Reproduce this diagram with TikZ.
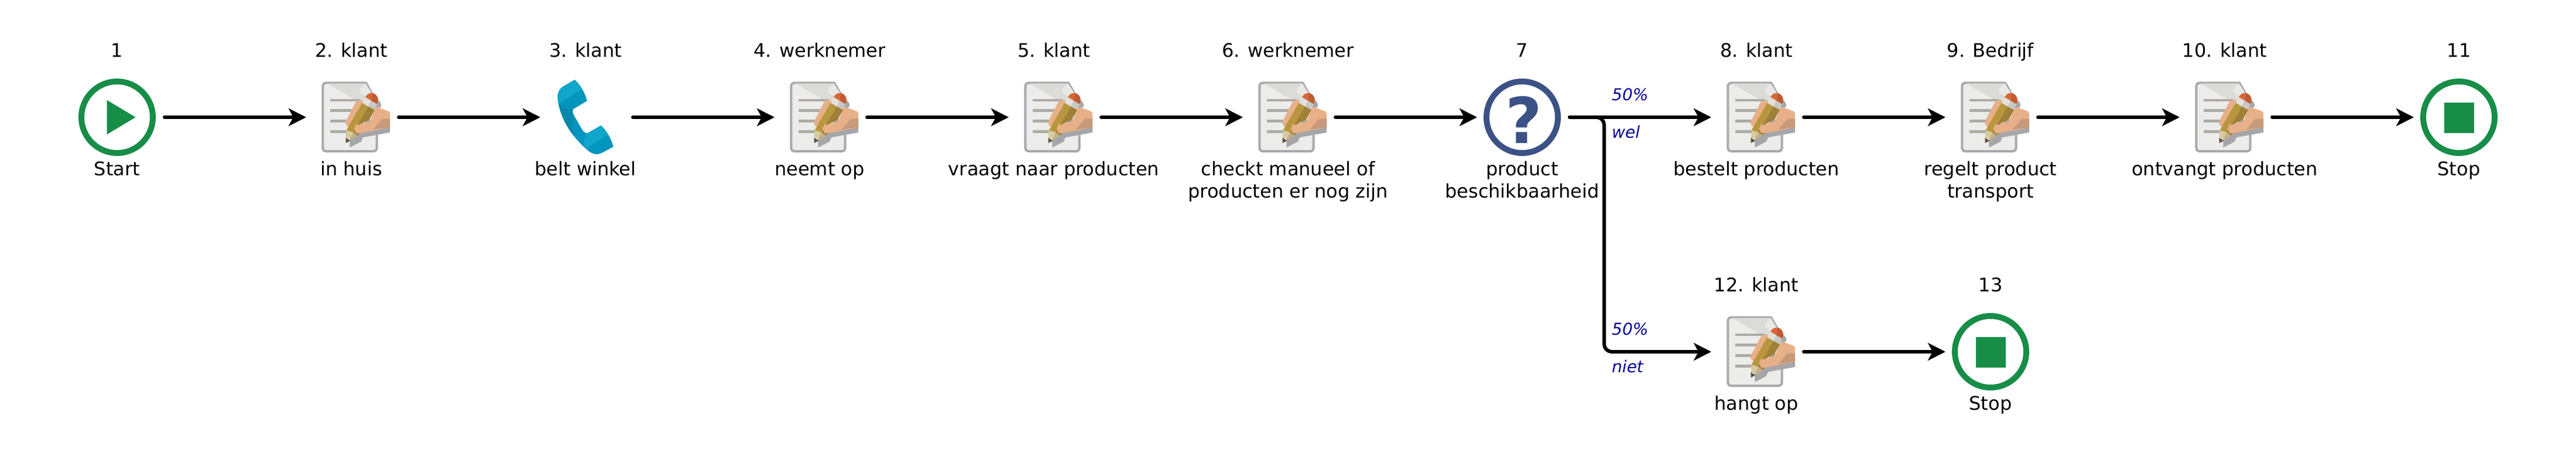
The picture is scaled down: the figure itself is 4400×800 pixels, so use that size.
\documentclass[tikz,border=0pt]{standalone}
\usepackage{fontspec}
\setmainfont{DejaVu Sans}
\usetikzlibrary{arrows.meta,calc}
\definecolor{flowgreen}{HTML}{178D48}
\definecolor{askblue}{HTML}{3C5186}
\definecolor{notegreen}{HTML}{000099}
\definecolor{paper}{HTML}{ECECEA}
\definecolor{paperedge}{HTML}{A9A9AC}
\definecolor{paperfold}{HTML}{DBDBD7}
\definecolor{paperlight}{HTML}{E8E8E6}
\definecolor{rulegrey}{HTML}{ADABA6}
\definecolor{shadowgrey}{HTML}{A5A6A9}
\definecolor{skin}{HTML}{E7B088}
\definecolor{skindark}{HTML}{C69A7B}
\definecolor{rubber}{HTML}{DB6636}
\definecolor{rubberdark}{HTML}{C25A32}
\definecolor{ferrule}{HTML}{E2E1DD}
\definecolor{ferruledark}{HTML}{C8C8C4}
\definecolor{wood}{HTML}{B8963E}
\definecolor{wooddark}{HTML}{A07F36}
\definecolor{tipa}{HTML}{D8CA9F}
\definecolor{tipb}{HTML}{C2B088}
\definecolor{leadgrey}{HTML}{5C5044}
\definecolor{phonemid}{HTML}{0495BE}
\definecolor{phonelight}{HTML}{10A5CB}
\definecolor{phonedark}{HTML}{0888AB}
\newcommand{\phonepath}{(245,108) .. controls (275,135) and (298,175) .. (308,216) -- (238,258)
        .. controls (232,268) and (236,280) .. (242,292) -- (280,358) .. controls (290,375) and (300,385) .. (312,381)
        -- (380,342) .. controls (410,370) and (432,410) .. (443,451) -- (385,482)
        .. controls (365,493) and (340,492) .. (315,472) .. controls (230,400) and (170,310) .. (158,205)
        .. controls (155,180) and (165,155) .. (185,143) -- cycle}
\tikzset{
  x=1pt,y=-1pt,
  iconbox/.style={rectangle,minimum width=154pt,minimum height=132pt,inner sep=0pt,outer sep=0pt},
  toplabel/.style={anchor=base,inner sep=0pt,font=\fontsize{32}{38}\selectfont},
  sublabel/.style={anchor=base,inner sep=0pt,align=center,font=\fontsize{32}{38}\selectfont},
  pctlabel/.style={anchor=base west,inner sep=0pt,text=notegreen,font=\fontsize{28}{34}\selectfont\itshape},
  flow/.style={line width=6pt,line cap=round,rounded corners=13pt,-{Stealth[length=30pt,width=30pt,inset=8pt]},shorten <=4pt},
  ring/.style={draw=#1,line width=10pt,fill=white,circle,minimum size=122pt,inner sep=0pt,outer sep=0pt},
  docicon/.pic={
    \begin{scope}[x=.33333pt,y=-.33333pt,shift={(-300,-300)}]
      \draw[paperedge,fill=paper,line width=4pt,line join=round]
        (154,300) [rounded corners=5pt] -- (154,124) [sharp corners] -- (375,124) -- (431,222)
        [rounded corners=5pt] -- (431,474) -- (154,474) -- cycle;
      \fill[paperfold] (175,127) -- (373,127) -- (345,155) -- (345,175) -- (378,197) -- (350,228) -- cycle;
      \fill[paperlight] (373,127) -- (345,155) .. controls (342,170) and (350,178) .. (375,195) -- (412,188) -- cycle;
      \fill[rulegrey] (192,206) rectangle (345,220);
      \fill[rulegrey] (192,259) rectangle (320,273);
      \fill[rulegrey] (192,313) rectangle (300,327);
      \fill[rulegrey] (192,366) rectangle (290,380);
      % shadow
      \fill[shadowgrey] (498,378) -- (360,403) -- (350,425) -- (292,455) -- (292,400) -- (430,330) -- (498,330) -- cycle;
      \fill[shadowgrey] (425,205) .. controls (445,215) and (462,235) .. (450,248) -- (415,262) -- cycle;
      \fill[shadowgrey] (370,305) -- (396,305) -- (396,322) -- (370,330) -- cycle;
      % index finger and hand
      \fill[skin,rounded corners=8pt] (330,208) -- (372,214) -- (300,352) -- (262,340) -- cycle;
      \fill[skin,rounded corners=3pt] (425,245) -- (498,272) -- (498,352) -- (345,381)
        .. controls (320,383) and (318,342) .. (345,336) -- (395,322) -- cycle;
      \fill[skindark] (498,308) -- (460,308) -- (412,362) -- (498,352) -- cycle;
      % pencil
      \fill[wood] (356,226) -- (388,244) -- (310,378) -- (275,366) -- cycle;
      \fill[wooddark] (388,244) -- (420,262) -- (392,312) -- (345,336) -- (322,345) -- (345,381) -- (330,393) -- (310,378) -- cycle;
      \fill[skin,rounded corners=6pt] (325,345) -- (395,322) -- (400,370) -- (345,381) .. controls (322,383) and (316,355) .. cycle;
      \fill[tipa] (275,366) -- (310,378) -- (295,408) -- (272,406) -- cycle;
      \fill[tipb] (310,378) -- (332,394) -- (295,420) -- (295,408) -- cycle;
      \fill[leadgrey] (272,405) -- (295,420) -- (272,432) -- cycle;
      \fill[ferrule] (372,197) -- (402,215) -- (388,245) -- (356,226) -- cycle;
      \fill[ferruledark] (402,215) -- (432,232) -- (420,262) -- (388,245) -- cycle;
      \fill[rubber] (372,197) .. controls (380,182) and (392,175) .. (408,176) -- (402,215) -- cycle;
      \fill[rubberdark] (408,176) .. controls (430,180) and (446,205) .. (432,232) -- (402,215) -- cycle;
    \end{scope}
  },
  phoneicon/.pic={
    \begin{scope}[x=.33333pt,y=-.33333pt,shift={(-300,-300)}]
      \fill[phonemid] \phonepath;
      \begin{scope}
        \clip \phonepath;
        \fill[phonedark] (150,215) .. controls (175,250) and (205,262) .. (235,258) -- (235,500) -- (100,500) -- (100,215) -- cycle;
        \fill[phonelight] (240,100) -- (285,156) -- (150,238) -- (100,100) -- cycle;
        \fill[phonelight] (370,330) -- (417,388) -- (300,462)
          .. controls (288,430) and (290,400) .. (312,378) -- cycle;
      \end{scope}
    \end{scope}
  },
}
\begin{document}
\begin{tikzpicture}[x=1pt,y=-1pt]
\useasboundingbox (0,0) rectangle (4400,800);
% icon anchors
\node[iconbox] (n1) at (200,200) {};
\node[iconbox] (n2) at (600,200) {};
\node[iconbox] (n3) at (1000,200) {};
\node[iconbox] (n4) at (1400,200) {};
\node[iconbox] (n5) at (1800,200) {};
\node[iconbox] (n6) at (2200,200) {};
\node[iconbox] (n7) at (2600,200) {};
\node[iconbox] (n8) at (3000,200) {};
\node[iconbox] (n9) at (3400,200) {};
\node[iconbox] (n10) at (3800,200) {};
\node[iconbox] (n11) at (4200,200) {};
\node[iconbox] (n12) at (3000,600) {};
\node[iconbox] (n13) at (3400,600) {};
% event rings
\node[ring=flowgreen] (r1) at (n1) {};
\fill[flowgreen] (182.6,170.7) -- (231.6,200) -- (182.6,229.3) -- cycle;
\node[ring=flowgreen] (r11) at (n11) {};
\fill[flowgreen] (4175,175) rectangle (4226,227);
\node[ring=flowgreen] (r13) at (n13) {};
\fill[flowgreen] (3375,575) rectangle (3426,627);
\node[ring=askblue] (r7) at (n7) {};
\node[anchor=base,inner sep=0pt,text=askblue,font=\fontsize{108}{108}\selectfont\bfseries] (q7) at (2603,244) {?};
% icons
\pic at (n2) {docicon};
\pic at (n3) {phoneicon};
\pic at (n4) {docicon};
\pic at (n5) {docicon};
\pic at (n6) {docicon};
\pic at (n8) {docicon};
\pic at (n9) {docicon};
\pic at (n10) {docicon};
\pic at (n12) {docicon};
% top labels
\node[toplabel] (t1) at (200,97) {1};
\node[toplabel] (t2) at (600,97) {2. klant};
\node[toplabel] (t3) at (1000,97) {3. klant};
\node[toplabel] (t4) at (1400,97) {4. werknemer};
\node[toplabel] (t5) at (1800,97) {5. klant};
\node[toplabel] (t6) at (2200,97) {6. werknemer};
\node[toplabel] (t7) at (2600,97) {7};
\node[toplabel] (t8) at (3000,97) {8. klant};
\node[toplabel] (t9) at (3400,97) {9. Bedrijf};
\node[toplabel] (t10) at (3800,97) {10. klant};
\node[toplabel] (t11) at (4200,97) {11};
\node[toplabel] (t12) at (3000,497) {12. klant};
\node[toplabel] (t13) at (3400,497) {13};
% captions
\node[sublabel] (s1) at (200,299) {Start};
\node[sublabel] (s2) at (600,299) {in huis};
\node[sublabel] (s3) at (1000,299) {belt winkel};
\node[sublabel] (s4) at (1400,299) {neemt op};
\node[sublabel] (s5) at (1800,299) {vraagt naar producten};
\node[sublabel] (s6) at (2200,337) {checkt manueel of\\producten er nog zijn};
\node[sublabel] (s7) at (2600,337) {product\\beschikbaarheid};
\node[sublabel] (s8) at (3000,299) {bestelt producten};
\node[sublabel] (s9) at (3400,337) {regelt product\\transport};
\node[sublabel] (s10) at (3800,299) {ontvangt producten};
\node[sublabel] (s11) at (4200,299) {Stop};
\node[sublabel] (s12) at (3000,699) {hangt op};
\node[sublabel] (s13) at (3400,699) {Stop};
% connectors
\draw[flow] (n1.east) -- (n2.west);
\draw[flow] (n2.east) -- (n3.west);
\draw[flow] (n3.east) -- (n4.west);
\draw[flow] (n4.east) -- (n5.west);
\draw[flow] (n5.east) -- (n6.west);
\draw[flow] (n6.east) -- (n7.west);
\draw[flow] (n7.east) -- (n8.west);
\coordinate (bend) at (2740,200);
\draw[flow] (n7.east) -- (bend) -- (bend |- n12.west) -- (n12.west);
\draw[flow] (n8.east) -- (n9.west);
\draw[flow] (n9.east) -- (n10.west);
\draw[flow] (n10.east) -- (n11.west);
\draw[flow] (n12.east) -- (n13.west);
% edge labels
\node[pctlabel] (p1) at (2753,171) {50\%};
\node[pctlabel] (w1) at (2753,235) {wel};
\node[pctlabel] (p2) at (2753,571) {50\%};
\node[pctlabel] (w2) at (2753,635) {niet};
\end{tikzpicture}
\end{document}
